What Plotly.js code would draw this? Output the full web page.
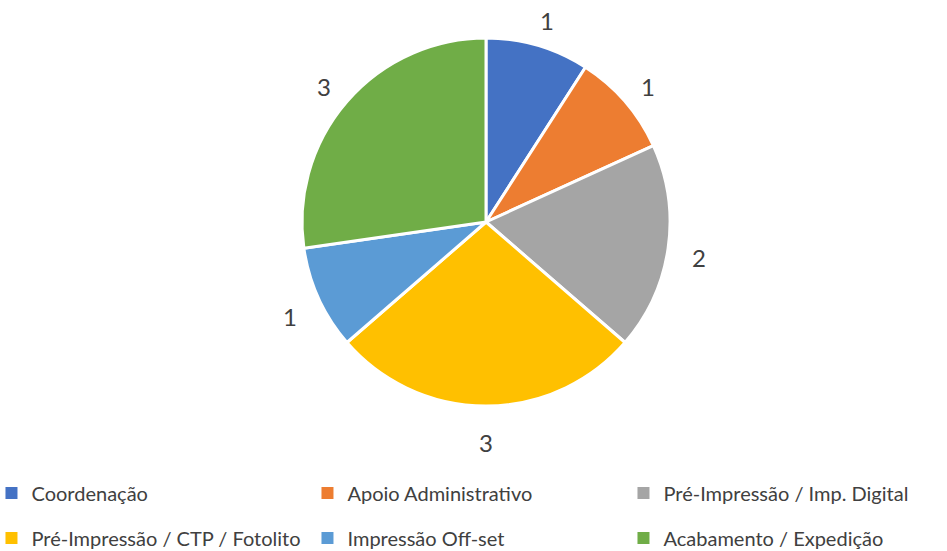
<!DOCTYPE html>
<html><head><meta charset="utf-8">
<script src="https://cdn.plot.ly/plotly-3.0.1.min.js"></script>
<style>html,body{margin:0;padding:0;background:#fff}#chart{width:947px;height:551px}</style>
</head><body><div id="chart"></div>
<script>
const categories = ["Coordenação", "Apoio Administrativo", "Pré-Impressão / Imp. Digital", "Pré-Impressão / CTP / Fotolito", "Impressão Off-set", "Acabamento / Expedição"];
const values = [1, 1, 2, 3, 1, 3];
const colors = ["#4472C4", "#ED7D31", "#A5A5A5", "#FFC000", "#5B9BD5", "#70AD47"];

const W = 947, H = 551, B = 100, PH = H - B;
const cx = 486, cy = 222, R = 184, Rl = 215, labelDy = 5;
const FONT = "Lato, 'Open Sans', sans-serif";
const total = values.reduce((a, b) => a + b, 0);
let cum = 0;
const annotations = values.map(v => {
  const f = (cum + v / 2) / total;
  cum += v;
  const a = (90 - 360 * f) * Math.PI / 180;
  return {
    x: (cx + Rl * Math.cos(a)) / W, y: 1 - (cy + labelDy - Rl * Math.sin(a)) / PH,
    xref: "paper", yref: "paper", text: String(v), showarrow: false,
    xanchor: "center", yanchor: "middle",
    font: {family: FONT, size: 24, color: "#404040"}
  };
});

const pie = {
  type: "pie", labels: categories, values: values, sort: false, direction: "clockwise", rotation: 0,
  marker: {colors: colors, line: {color: "#ffffff", width: 3}},
  textinfo: "none", hoverinfo: "label+value", showlegend: false,
  domain: {x: [(cx - R) / W, (cx + R) / W], y: [1 - (cy + R) / PH, 1 - (cy - R) / PH]}
};

// legend entries (one per slice), split over two rows like the reference
const legendKeys = categories.map((c, i) => ({
  type: "scatter", mode: "markers", x: [null], y: [null], name: c,
  marker: {symbol: "square", size: 12, color: colors[i]},
  legend: i < 3 ? "legend" : "legend2", showlegend: true, hoverinfo: "skip"
}));

const legendBase = {orientation: "h", x: -0.009, xanchor: "left", yanchor: "middle",
  entrywidth: 271, entrywidthmode: "pixels", traceorder: "normal", itemwidth: 30,
  font: {family: FONT, size: 20, color: "#404040"}, bgcolor: "rgba(0,0,0,0)"};

const layout = {
  width: W, height: H, margin: {l: 0, r: 0, t: 0, b: B, autoexpand: false},
  paper_bgcolor: "#fff", plot_bgcolor: "rgba(0,0,0,0)", showlegend: true,
  xaxis: {visible: false}, yaxis: {visible: false},
  legend: Object.assign({}, legendBase, {y: (PH - 493) / PH}),
  legend2: Object.assign({}, legendBase, {y: (PH - 538) / PH}),
  annotations: annotations
};
Plotly.newPlot("chart", [pie].concat(legendKeys), layout, {displayModeBar: false, staticPlot: true});
</script></body></html>
